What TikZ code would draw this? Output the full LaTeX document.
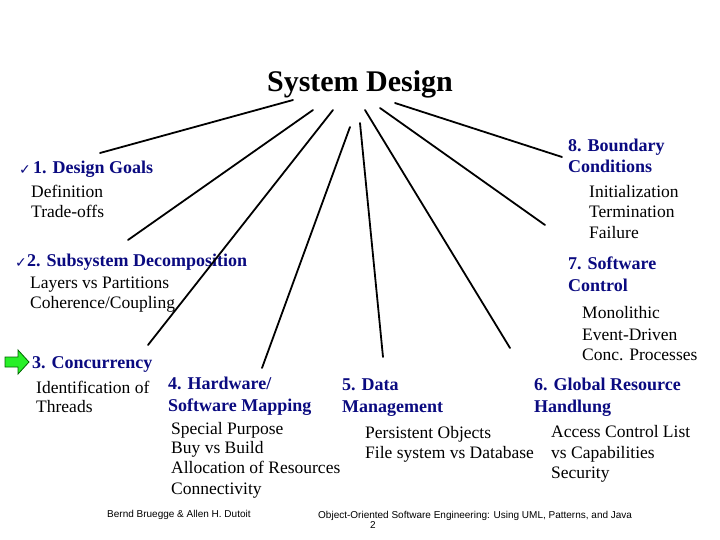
\documentclass[tikz,border=0pt]{standalone}
\usepackage{fontspec}
\setmainfont{Liberation Serif}
\setsansfont{Liberation Sans}
\newfontfamily\symfont{DejaVu Sans}
\definecolor{headblue}{RGB}{10,10,128}
\definecolor{arrowgreen}{RGB}{40,240,40}
\begin{document}
\begin{tikzpicture}[x=1pt,y=-1pt,
  head/.style={font=\fontsize{18}{20}\selectfont\bfseries, text=headblue, anchor=base west, inner sep=0pt},
  body/.style={font=\fontsize{17.5}{20}\selectfont, anchor=base west, inner sep=0pt},
  foot/.style={font=\fontsize{10}{12}\selectfont\sffamily, anchor=base west, inner sep=0pt},
  chk/.style={font=\fontsize{14}{14}\selectfont\symfont, text=headblue, anchor=base west, inner sep=0pt},
  spoke/.style={line width=1.8pt, line cap=round}]
\useasboundingbox (0,0) rectangle (720,540);
% title
\node[font=\fontsize{30}{34}\selectfont\bfseries, anchor=base, inner sep=0pt] (title) at (360,92) {System Design};
% check marks
\node[chk] (c1) at (19,175) {✓};
\node[chk] (c2) at (15,267) {✓};
% green arrow
\draw[fill=arrowgreen, draw=black!60!green, line width=0.8pt] (5,357) -- (18,357) -- (18,350) -- (29,362) -- (18,374) -- (18,367) -- (5,367) -- cycle;
% headings
\node[head] (h1) at (33,174) {1. Design Goals};
\node[head] (h2) at (27,266) {2. Subsystem Decomposition};
\node[head] (h3) at (32,368) {3. Concurrency};
\node[head] (h4a) at (168,389) {4. Hardware/};
\node[head] (h4b) at (168,411) {Software Mapping};
\node[head] (h5a) at (342,390) {5. Data};
\node[head] (h5b) at (342,412) {Management};
\node[head] (h6a) at (534,390) {6. Global Resource};
\node[head] (h6b) at (534,412) {Handlung};
\node[head] (h7a) at (568,269) {7. Software};
\node[head] (h7b) at (568,291) {Control};
\node[head] (h8a) at (568,152) {8. Boundary};
\node[head] (h8b) at (568,173) {Conditions};
% body texts
\node[body] (b1a) at (31,197.5) {Definition};
\node[body] (b1b) at (31,217.5) {Trade-offs};
\node[body] (b2a) at (30,288.5) {Layers vs Partitions};
\node[body] (b2b) at (30,308.5) {Coherence/Coupling};
\node[body] (b3a) at (36,393.5) {Identification of};
\node[body] (b3b) at (36,412.5) {Threads};
\node[body] (b4a) at (171,434.5) {Special Purpose};
\node[body] (b4b) at (171,453.5) {Buy vs Build};
\node[body] (b4c) at (171,473.5) {Allocation of Resources};
\node[body] (b4d) at (171,494.5) {Connectivity};
\node[body] (b5a) at (365,438.5) {Persistent Objects};
\node[body] (b5b) at (365,458.5) {File system vs Database};
\node[body] (b6a) at (551,437.5) {Access Control List};
\node[body] (b6b) at (551,458.5) {vs Capabilities};
\node[body] (b6c) at (551,478.5) {Security};
\node[body] (b8a) at (589,197.5) {Initialization};
\node[body] (b8b) at (589,217.5) {Termination};
\node[body] (b8c) at (589,238.5) {Failure};
\node[body] (b7a) at (582,318.5) {Monolithic};
\node[body] (b7b) at (582,340.5) {Event-Driven};
\node[body] (b7c) at (582,360.5) {Conc. Processes};
% footer
\node[foot] (f1) at (107,517) {Bernd Bruegge \& Allen H. Dutoit};
\node[foot] (f2) at (318,518) {Object-Oriented Software Engineering: Using UML, Patterns, and Java};
\node[foot] (f3) at (370,528) {2};
% spoke coordinates
\coordinate (s1) at (293,100); \coordinate (e1) at (100,153);
\coordinate (s2) at (313,110); \coordinate (e2) at (128,240);
\coordinate (s3) at (333,110); \coordinate (e3) at (148,345);
\coordinate (s4) at (350,127); \coordinate (e4) at (262,368);
\coordinate (s5) at (360,123); \coordinate (e5) at (383,357);
\coordinate (s6) at (365,110); \coordinate (e6) at (510,348);
\coordinate (s7) at (380,108); \coordinate (e7) at (545,225);
\coordinate (s8) at (395,103); \coordinate (e8) at (562,157);
\foreach \i in {1,...,8} \draw[spoke] (s\i) -- (e\i);
\end{tikzpicture}
\end{document}
